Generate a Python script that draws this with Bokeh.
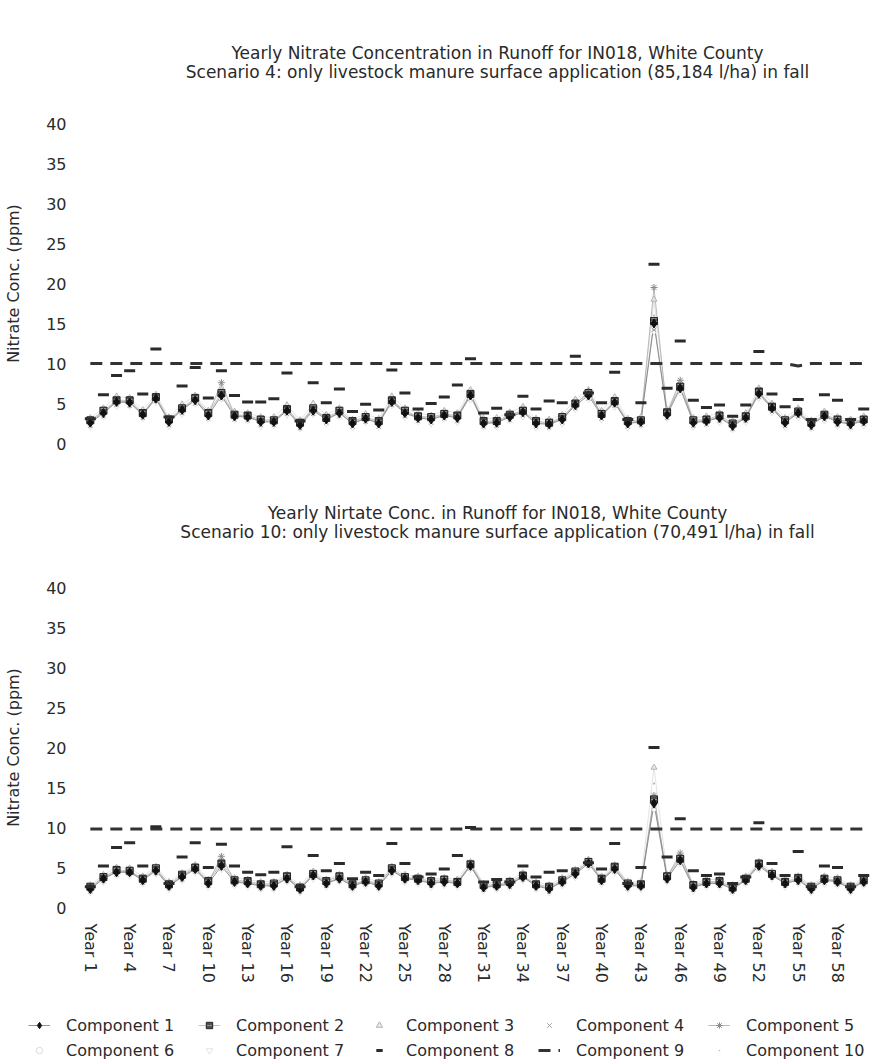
import math
from bokeh.plotting import figure
from bokeh.models import Range1d, FixedTicker, Legend, LegendItem
from bokeh.core.properties import value
from bokeh.layouts import column
from bokeh.embed import file_html
from bokeh.resources import INLINE

# ---------------- data ----------------
years = list(range(1, 61))
tick_years = [1, 4, 7, 10, 13, 16, 19, 22, 25, 28, 31, 34, 37, 40, 43, 46, 49, 52, 55, 58]
tick_labels = ["Year 1", "Year 4", "Year 7", "Year 10", "Year 13", "Year 16", "Year 19",
               "Year 22", "Year 25", "Year 28", "Year 31", "Year 34", "Year 37", "Year 40",
               "Year 43", "Year 46", "Year 49", "Year 52", "Year 55", "Year 58"]
y_ticks = [0, 5, 10, 15, 20, 25, 30, 35, 40]
components = ["Component 1", "Component 2", "Component 3", "Component 4", "Component 5",
              "Component 6", "Component 7", "Component 8", "Component 9", "Component 10"]

title1 = ["Yearly Nitrate Concentration in Runoff for IN018, White County",
          "Scenario 4: only livestock manure surface application (85,184 l/ha) in fall"]
title2 = ["Yearly Nirtate Conc. in Runoff for IN018, White County",
          "Scenario 10: only livestock manure surface application (70,491 l/ha) in fall"]
y_label = "Nitrate Conc. (ppm)"

# Scenario 4 (top panel)
p1_c1 = [2.6, 3.8, 5.2, 5.1, 3.6, 5.6, 2.7, 4.2, 5.4, 3.5,
         6.0, 3.4, 3.3, 2.7, 2.7, 4.1, 2.3, 4.1, 3.0, 3.8,
         2.5, 3.1, 2.5, 5.2, 3.8, 3.2, 3.0, 3.5, 3.2, 6.0,
         2.5, 2.6, 3.3, 3.9, 2.5, 2.4, 3.0, 4.8, 6.0, 3.5,
         5.1, 2.5, 2.7, 15.0, 3.6, 6.9, 2.6, 2.8, 3.2, 2.2,
         3.2, 6.2, 4.4, 2.6, 3.8, 2.3, 3.4, 2.7, 2.4, 2.8]
p1_c2 = [2.9, 4.1, 5.4, 5.4, 3.8, 5.8, 3.0, 4.4, 5.7, 3.8,
         6.3, 3.6, 3.5, 3.0, 2.9, 4.3, 2.6, 4.4, 3.2, 4.1,
         2.8, 3.3, 2.8, 5.4, 4.1, 3.4, 3.3, 3.7, 3.5, 6.2,
         2.8, 2.8, 3.6, 4.1, 2.8, 2.6, 3.3, 5.0, 6.3, 3.7,
         5.3, 2.8, 2.9, 15.3, 3.9, 7.1, 2.9, 3.0, 3.5, 2.5,
         3.4, 6.5, 4.6, 2.9, 4.0, 2.6, 3.6, 3.0, 2.7, 3.0]
p1_c3 = [3.2, 4.4, 5.9, 5.7, 4.2, 6.1, 3.3, 4.9, 6.0, 4.1,
         6.7, 4.0, 3.8, 3.3, 3.3, 4.8, 2.9, 5.0, 3.6, 4.4,
         3.0, 3.7, 3.1, 5.9, 4.4, 3.8, 3.5, 4.1, 3.8, 6.7,
         3.1, 3.2, 3.9, 4.6, 3.1, 3.0, 3.6, 5.5, 6.7, 4.1,
         5.8, 3.1, 3.3, 18.0, 4.2, 7.6, 3.2, 3.4, 3.8, 2.8,
         3.8, 6.9, 5.0, 3.2, 4.4, 2.9, 4.0, 3.3, 3.0, 3.4]
p1_c4 = [2.2, 3.4, 4.8, 4.7, 3.2, 5.3, 2.3, 3.8, 5.0, 3.1,
         5.6, 3.0, 2.9, 2.3, 2.3, 3.7, 1.9, 3.7, 2.6, 3.4,
         2.1, 2.7, 2.1, 4.8, 3.4, 2.8, 2.6, 3.1, 2.8, 5.6,
         2.1, 2.2, 2.9, 3.5, 2.1, 2.0, 2.6, 4.4, 5.6, 3.1,
         4.7, 2.1, 2.3, 14.2, 3.2, 6.5, 2.2, 2.4, 2.8, 1.8,
         2.8, 5.8, 4.0, 2.2, 3.4, 1.9, 3.0, 2.3, 2.0, 2.4]
p1_c5 = [2.8, 3.9, 5.3, 5.2, 3.7, 5.8, 2.8, 4.3, 5.5, 3.6,
         7.6, 3.5, 3.4, 2.8, 2.8, 4.2, 2.4, 4.3, 3.1, 3.9,
         2.6, 3.2, 2.6, 5.4, 3.9, 3.3, 3.1, 3.6, 3.3, 6.2,
         2.6, 2.7, 3.4, 4.0, 2.6, 2.5, 3.1, 4.9, 6.5, 3.6,
         5.2, 2.6, 2.8, 19.5, 3.7, 7.9, 2.7, 2.9, 3.3, 2.3,
         3.3, 6.4, 4.5, 2.7, 3.9, 2.4, 3.5, 2.8, 2.5, 2.9]
p1_c6 = [2.5, 3.7, 5.0, 5.0, 3.5, 5.5, 2.6, 4.0, 5.3, 3.4,
         5.9, 3.3, 3.1, 2.6, 2.5, 4.0, 2.2, 3.9, 2.9, 3.7,
         2.4, 3.0, 2.4, 5.0, 3.7, 3.1, 2.9, 3.4, 3.1, 5.9,
         2.4, 2.5, 3.2, 3.8, 2.4, 2.3, 2.9, 4.7, 5.8, 3.4,
         5.0, 2.4, 2.6, 14.6, 3.5, 6.8, 2.5, 2.7, 3.1, 2.1,
         3.1, 6.1, 4.3, 2.5, 3.7, 2.2, 3.3, 2.6, 2.3, 2.7]
p1_c7 = [2.0, 3.3, 4.6, 4.6, 3.1, 5.1, 2.1, 3.6, 4.9, 3.0,
         5.5, 2.9, 2.8, 2.1, 2.2, 3.5, 1.8, 3.6, 2.4, 3.3,
         1.9, 2.6, 2.0, 4.7, 3.2, 2.7, 2.4, 3.0, 2.6, 5.4,
         2.0, 2.0, 2.8, 3.3, 1.9, 1.9, 2.4, 4.2, 5.5, 2.9,
         4.5, 1.9, 2.2, 13.9, 3.1, 6.3, 2.0, 2.3, 2.6, 1.7,
         2.6, 5.6, 3.8, 2.0, 3.2, 1.8, 2.8, 2.1, 1.9, 2.2]
p1_c8 = [3.1, 6.1, 8.5, 9.1, 6.2, 11.8, 3.3, 7.2, 9.5, 5.7,
         9.1, 6.0, 5.2, 5.2, 5.6, 8.8, 2.8, 7.6, 5.1, 6.8,
         4.0, 4.9, 4.2, 9.2, 6.3, 4.3, 5.0, 5.8, 7.3, 10.6,
         3.8, 4.4, 3.6, 5.9, 4.3, 5.3, 5.1, 10.9, 6.3, 5.1,
         8.9, 3.0, 5.1, 22.4, 6.9, 12.8, 5.4, 4.5, 4.8, 3.4,
         4.8, 11.5, 6.2, 4.6, 5.5, 3.0, 6.1, 5.4, 3.0, 4.3]
p1_c9 = [10.0, 10.0, 10.0, 10.0, 10.0, 10.0, 10.0, 10.0, 10.0, 10.0,
         10.0, 10.0, 10.0, 10.0, 10.0, 10.0, 10.0, 10.0, 10.0, 10.0,
         10.0, 10.0, 10.0, 10.0, 10.0, 10.0, 10.0, 10.0, 10.0, 10.0,
         10.0, 10.0, 10.0, 10.0, 10.0, 10.0, 10.0, 10.0, 10.0, 10.0,
         10.0, 10.0, 10.0, 10.0, 10.0, 10.0, 10.0, 10.0, 10.0, 10.0,
         10.0, 10.0, 10.0, 10.0, 9.7, 10.0, 10.0, 10.0, 10.0, 10.0]
p1_c10 = [2.7, 4.0, 5.5, 5.3, 3.9, 5.9, 2.9, 4.5, 5.6, 3.8,
          6.2, 3.7, 3.6, 2.9, 3.0, 4.4, 2.5, 4.5, 3.3, 4.0,
          2.7, 3.4, 2.7, 5.6, 4.0, 3.5, 3.2, 3.8, 3.4, 6.4,
          2.7, 2.9, 3.5, 4.2, 2.7, 2.7, 3.3, 5.1, 6.2, 3.8,
          5.4, 2.7, 3.0, 16.0, 3.8, 7.3, 2.8, 3.1, 3.4, 2.4,
          3.5, 6.6, 4.7, 2.8, 4.1, 2.5, 3.7, 2.9, 2.6, 3.1]

# Scenario 10 (bottom panel)
p2_c1 = [2.3, 3.6, 4.4, 4.4, 3.4, 4.6, 2.7, 3.8, 4.8, 3.0,
         5.2, 3.2, 3.0, 2.7, 2.7, 3.6, 2.3, 4.0, 3.0, 3.6,
         2.7, 3.2, 2.7, 4.6, 3.6, 3.4, 3.0, 3.2, 3.0, 5.2,
         2.5, 2.7, 2.9, 3.8, 2.7, 2.3, 3.2, 4.2, 5.5, 3.4,
         4.8, 2.7, 2.7, 13.0, 3.6, 5.9, 2.5, 3.0, 3.0, 2.3,
         3.4, 5.2, 4.0, 3.0, 3.4, 2.3, 3.4, 3.2, 2.3, 3.2]
p2_c2 = [2.6, 3.8, 4.7, 4.6, 3.6, 4.9, 2.9, 4.1, 5.0, 3.3,
         5.5, 3.4, 3.3, 2.9, 3.0, 3.9, 2.5, 4.2, 3.3, 3.9,
         2.9, 3.4, 3.0, 4.9, 3.8, 3.6, 3.3, 3.5, 3.2, 5.4,
         2.8, 2.9, 3.2, 4.0, 2.9, 2.6, 3.4, 4.5, 5.7, 3.6,
         5.1, 3.0, 2.9, 13.5, 3.9, 6.1, 2.8, 3.2, 3.3, 2.5,
         3.6, 5.5, 4.2, 3.2, 3.7, 2.6, 3.6, 3.4, 2.6, 3.4]
p2_c3 = [2.8, 4.1, 5.0, 4.9, 3.9, 5.1, 3.2, 4.3, 5.3, 3.5,
         5.7, 3.7, 3.5, 3.2, 3.2, 4.1, 2.8, 4.5, 3.5, 4.1,
         3.2, 3.7, 3.2, 5.1, 4.1, 3.9, 3.5, 3.7, 3.5, 5.7,
         3.0, 3.2, 3.4, 4.3, 3.2, 2.8, 3.7, 4.7, 6.0, 3.9,
         5.3, 3.2, 3.2, 17.5, 4.1, 6.4, 3.0, 3.5, 3.5, 2.8,
         3.9, 5.7, 4.5, 3.5, 3.9, 2.8, 3.9, 3.7, 2.8, 3.7]
p2_c4 = [2.0, 3.3, 4.1, 4.2, 3.1, 4.3, 2.4, 3.5, 4.5, 2.7,
         4.9, 2.9, 2.8, 2.4, 2.4, 3.3, 2.0, 3.7, 2.7, 3.3,
         2.4, 2.9, 2.5, 4.3, 3.3, 3.1, 2.7, 2.9, 2.8, 4.9,
         2.2, 2.4, 2.6, 3.5, 2.4, 2.0, 2.9, 3.9, 5.2, 3.1,
         4.5, 2.4, 2.5, 12.6, 3.3, 5.6, 2.2, 2.7, 2.7, 2.0,
         3.1, 4.9, 3.7, 2.7, 3.1, 2.0, 3.1, 2.9, 2.0, 2.9]
p2_c5 = [2.4, 3.7, 4.5, 4.5, 3.5, 4.7, 2.8, 3.9, 4.9, 3.1,
         6.4, 3.3, 3.1, 2.8, 2.8, 3.7, 2.4, 4.1, 3.1, 3.7,
         2.8, 3.3, 2.8, 4.7, 3.7, 3.5, 3.1, 3.3, 3.1, 5.3,
         2.6, 2.8, 3.0, 3.9, 2.8, 2.4, 3.3, 4.3, 5.8, 3.5,
         4.9, 2.8, 2.8, 14.0, 3.7, 6.8, 2.6, 3.1, 3.1, 2.4,
         3.5, 5.4, 4.1, 3.1, 3.5, 2.4, 3.5, 3.3, 2.4, 3.3]
p2_c6 = [2.2, 3.5, 4.3, 4.2, 3.3, 4.5, 2.6, 3.7, 4.7, 2.9,
         5.1, 3.1, 2.9, 2.6, 2.6, 3.5, 2.2, 3.9, 2.9, 3.5,
         2.6, 3.1, 2.6, 4.5, 3.5, 3.3, 2.9, 3.1, 2.9, 5.1,
         2.4, 2.6, 2.8, 3.7, 2.6, 2.2, 3.1, 4.1, 5.4, 3.3,
         4.7, 2.6, 2.6, 12.8, 3.5, 5.8, 2.4, 2.9, 2.9, 2.2,
         3.3, 5.1, 3.9, 2.9, 3.3, 2.2, 3.3, 3.1, 2.2, 3.1]
p2_c7 = [1.8, 3.1, 3.9, 3.9, 2.9, 4.1, 2.2, 3.3, 4.3, 2.5,
         4.7, 2.7, 2.5, 2.2, 2.2, 3.1, 1.8, 3.5, 2.5, 3.1,
         2.2, 2.7, 2.2, 4.1, 3.1, 2.9, 2.5, 2.7, 2.5, 4.7,
         2.0, 2.2, 2.4, 3.3, 2.2, 1.8, 2.7, 3.7, 5.0, 2.9,
         4.3, 2.2, 2.2, 12.2, 3.1, 5.4, 2.0, 2.5, 2.5, 1.8,
         2.9, 4.7, 3.5, 2.5, 2.9, 1.8, 2.9, 2.7, 1.8, 2.7]
p2_c8 = [2.6, 5.2, 7.5, 8.1, 5.2, 10.1, 3.0, 6.3, 8.1, 5.0,
         7.9, 5.2, 4.4, 4.1, 4.4, 7.6, 2.6, 6.5, 4.6, 5.5,
         3.6, 4.4, 4.0, 8.0, 5.5, 3.8, 4.2, 4.8, 6.5, 10.0,
         3.2, 3.5, 3.2, 5.2, 3.8, 4.4, 4.6, 9.8, 5.6, 4.8,
         8.0, 3.0, 5.0, 20.0, 6.3, 11.1, 4.6, 4.0, 4.2, 3.0,
         3.8, 10.6, 5.5, 4.0, 7.0, 2.6, 5.2, 5.0, 2.6, 4.0]
p2_c9 = [9.8, 9.8, 9.8, 9.8, 9.8, 9.8, 9.8, 9.8, 9.8, 9.8,
         9.8, 9.8, 9.8, 9.8, 9.8, 9.8, 9.8, 9.8, 9.8, 9.8,
         9.8, 9.8, 9.8, 9.8, 9.8, 9.8, 9.8, 9.8, 9.8, 9.8,
         9.8, 9.8, 9.8, 9.8, 9.8, 9.8, 9.8, 9.8, 9.8, 9.8,
         9.8, 9.8, 9.8, 9.8, 9.8, 9.8, 9.8, 9.8, 9.8, 9.8,
         9.8, 9.8, 9.8, 9.8, 9.8, 9.8, 9.8, 9.8, 9.8, 9.8]
p2_c10 = [2.6, 3.9, 4.7, 4.7, 3.7, 4.9, 3.0, 4.1, 5.1, 3.3,
          5.5, 3.5, 3.3, 3.0, 3.0, 3.9, 2.6, 4.3, 3.3, 3.9,
          3.0, 3.5, 3.0, 4.9, 3.9, 3.7, 3.3, 3.5, 3.3, 5.5,
          2.8, 3.0, 3.2, 4.1, 3.0, 2.6, 3.5, 4.5, 5.8, 3.7,
          5.1, 3.0, 3.0, 15.5, 3.9, 6.2, 2.8, 3.3, 3.3, 2.6,
          3.7, 5.5, 4.3, 3.3, 3.7, 2.6, 3.7, 3.5, 2.6, 3.5]

FONT = "DejaVu Sans"
TXT = "#2a2a2a"
W = 877


def blank_fig(height, xr, yr):
    f = figure(width=W, height=height, x_range=xr, y_range=yr, output_backend="svg",
               toolbar_location=None, min_border_left=0, min_border_right=0,
               min_border_top=0, min_border_bottom=0, frame_align=False)
    f.axis.visible = False
    f.grid.visible = False
    f.outline_line_color = None
    return f


def title_fig(lines, height, ys):
    f = blank_fig(height, Range1d(0, W), Range1d(height, 0))
    f.text(x=[497, 497], y=ys, text=lines, text_align="center", text_baseline="middle",
           text_font=value(FONT), text_font_size=value("17px"), text_color=TXT)
    return f


def draw_series(p, series):
    c1, c2, c3, c4, c5, c6, c7, c8, c9, c10 = series
    l3 = p.line(years, c3, line_color="#d0d0d0", line_width=0.6)
    l5 = p.line(years, c5, line_color="#a8a8a8", line_width=0.8)
    l2 = p.line(years, c2, line_color="#9a9a9a", line_width=0.6)
    l1 = p.line(years, c1, line_color="#7a7a7a", line_width=0.8)
    l9 = p.line(years, c9, line_color="#333333", line_width=3, line_dash="12 8")
    m6 = p.scatter(years, c6, marker="circle", size=5, fill_color="white", line_color="#dadada")
    m7 = p.scatter(years, c7, marker="inverted_triangle", size=5, fill_color="white",
                   line_color="#e4e4e4")
    m10 = p.scatter(years, c10, marker="dot", size=9, line_color="#b8b8b8", fill_color="#b8b8b8")
    m3 = p.scatter(years, c3, marker="triangle", size=6, fill_color="#e8e8e8", line_color="#b5b5b5")
    m4 = p.scatter(years, c4, marker="x", size=6, line_color="#a0a0a0")
    m5 = p.scatter(years, c5, marker="asterisk", size=7, line_color="#8c8c8c")
    m2 = p.scatter(years, c2, marker="square", size=7, fill_color="#505050", line_color="#1e1e1e",
                   hatch_pattern="horizontal_line", hatch_color="#bbbbbb", hatch_scale=3,
                   hatch_weight=0.6)
    m1 = p.scatter(years, c1, marker="diamond", size=9, fill_color="#111111", line_color="#111111")
    m8 = p.scatter(years, c8, marker="dash", size=11, line_color="#2b2b2b", line_width=3)
    return {1: [l1, m1], 2: [l2, m2], 3: [m3], 4: [m4], 5: [l5, m5], 6: [m6], 7: [m7],
            8: [m8], 9: [l9], 10: [m10]}


def make_panel(series, height, top, bottom, show_x):
    p = figure(width=W, height=height, x_range=Range1d(0.25, 61.05),
               y_range=Range1d(0, 40), output_backend="svg", toolbar_location=None,
               min_border_left=80, min_border_right=0, min_border_top=top,
               min_border_bottom=bottom)
    p.xgrid.visible = False
    p.ygrid.visible = False
    p.outline_line_color = None

    ya = p.yaxis[0]
    ya.ticker = FixedTicker(ticks=y_ticks)
    ya.axis_line_color = None
    ya.major_tick_line_color = None
    ya.minor_tick_line_color = None
    ya.major_label_text_font = FONT
    ya.major_label_text_font_size = "16px"
    ya.major_label_text_color = TXT
    ya.major_label_standoff = 8
    ya.axis_label = y_label
    ya.axis_label_text_font = FONT
    ya.axis_label_text_font_size = "16px"
    ya.axis_label_text_font_style = "normal"
    ya.axis_label_text_color = TXT
    ya.axis_label_standoff = 20

    xa = p.xaxis[0]
    if show_x:
        xa.ticker = FixedTicker(ticks=tick_years)
        xa.major_label_overrides = dict(zip(tick_years, tick_labels))
        xa.major_label_orientation = -math.pi / 2
        xa.axis_line_color = None
        xa.major_tick_line_color = None
        xa.minor_tick_line_color = None
        xa.major_label_text_font = FONT
        xa.major_label_text_font_size = "16px"
        xa.major_label_text_color = TXT
        xa.major_label_standoff = 10
    else:
        xa.visible = False
    r = draw_series(p, series)
    return p, r


series1 = [p1_c1, p1_c2, p1_c3, p1_c4, p1_c5, p1_c6, p1_c7, p1_c8, p1_c9, p1_c10]
series2 = [p2_c1, p2_c2, p2_c3, p2_c4, p2_c5, p2_c6, p2_c7, p2_c8, p2_c9, p2_c10]

t1 = title_fig(title1, 100, [52, 71])
p1, _ = make_panel(series1, 370, 23, 27, False)
t2 = title_fig(title2, 90, [42, 61])
p2, _ = make_panel(series2, 440, 27, 93, True)

# legend strip (its renderers sit outside the visible range; only the legend shows)
lg = blank_fig(62, Range1d(100, 200), Range1d(100, 200))
rl = draw_series(lg, series2)

leg_kw = dict(orientation="horizontal", label_text_font=FONT, label_text_font_size="16px",
              label_text_color=TXT, glyph_width=22, glyph_height=16, label_standoff=16,
              label_width=118, label_height=20, spacing=14, padding=0, margin=0,
              border_line_alpha=0, background_fill_alpha=0)
row1 = [LegendItem(label=components[i], renderers=rl[i + 1]) for i in range(0, 5)]
row2 = [LegendItem(label=components[i], renderers=rl[i + 1]) for i in range(5, 10)]
lg.add_layout(Legend(items=row1, location=(28, 27), **leg_kw), "center")
lg.add_layout(Legend(items=row2, location=(28, 2), **leg_kw), "center")

layout = column(t1, p1, t2, p2, lg, spacing=0)
open("out.html", "w").write(file_html(layout, INLINE))
